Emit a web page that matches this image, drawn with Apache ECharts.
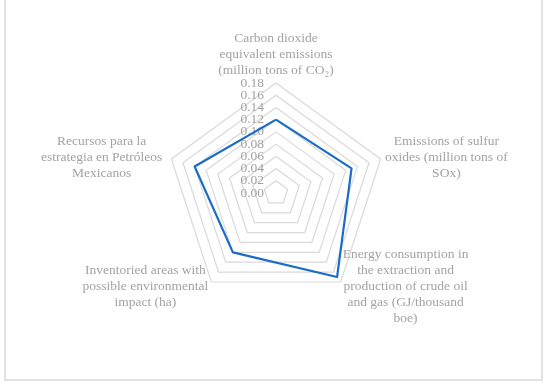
<!DOCTYPE html>
<html>
<head>
<meta charset="utf-8">
<script src="https://cdn.jsdelivr.net/npm/echarts@6/dist/echarts.min.js"></script>
<style>
  html, body { margin: 0; padding: 0; background: #fff; }
  #chart { width: 550px; height: 388px; }
</style>
</head>
<body>
<div id="chart"></div>
<script>
// Indicator names (each line of the wrapped label), clockwise from top
const indicatorNames = [
  ['Carbon dioxide', 'equivalent emissions', '(million tons of CO\u2082)'],
  ['Emissions of sulfur', 'oxides (million tons of', 'SOx)'],
  ['Energy consumption in', 'the extraction and', 'production of crude oil', 'and gas (GJ/thousand', 'boe)'],
  ['Inventoried areas with', 'possible environmental', 'impact (ha)'],
  ['Recursos para la', 'estrategia en Petróleos', 'Mexicanos']
];
// Series values (same order as indicatorNames)
const seriesValues = [0.12, 0.13, 0.17, 0.12, 0.14];
// Radial axis range / ticks
const axisMin = 0;
const axisMax = 0.18;
const axisStep = 0.02;

const textColor = '#a3a3a3';
const fontFamily = '"Liberation Serif", "DejaVu Serif", serif';
const boxWidths = [180, 122, 124, 126, 130];

// ECharts lays indicators counter-clockwise; the reference goes clockwise.
const order = [0, 4, 3, 2, 1];

const isEnd = v => Math.abs(v - axisMin) < 1e-9 || Math.abs(v - axisMax) < 1e-9;
const labelStyle = {
  color: textColor,
  fontFamily: fontFamily,
  fontSize: 13.5,
  margin: 12
};

// pass 0: inner tick labels; pass 1: min / max tick labels
function buildIndicators(pass) {
  return order.map((i, k) => {
    const ind = { name: indicatorNames[i].join('\n'), min: axisMin, max: axisMax, interval: axisStep };
    if (k === 0) {
      ind.axisLabel = Object.assign({}, labelStyle, {
        show: true,
        showMinLabel: pass === 1,
        showMaxLabel: pass === 1,
        formatter: v => (pass === 1) === isEnd(v) ? Number(v).toFixed(2) : ''
      });
    }
    return ind;
  });
}

const rich = {};
boxWidths.forEach((w, i) => {
  rich['n' + i] = {
    width: w, align: 'center', color: textColor,
    fontFamily: fontFamily, fontSize: 13.5, lineHeight: 16
  };
});

const radarBase = {
  center: [276, 193],
  radius: 110,
  startAngle: 90,
  shape: 'polygon',
  splitNumber: Math.round((axisMax - axisMin) / axisStep),
  nameGap: 5,
  axisLine: { show: false },
  axisTick: { show: false },
  axisLabel: { show: false },
  splitArea: { show: false }
};

const chart = echarts.init(document.getElementById('chart'), null, { renderer: 'canvas' });
chart.setOption({
  animation: false,
  backgroundColor: '#ffffff',
  graphic: [{
    type: 'rect',
    shape: { x: 5, y: -4, width: 537, height: 384 },
    style: { fill: 'none', stroke: '#d9d9d9', lineWidth: 1.5 },
    silent: true
  }],
  radar: [
    Object.assign({}, radarBase, {
      axisName: {
        color: textColor,
        fontFamily: fontFamily,
        fontSize: 13.5,
        lineHeight: 16,
        formatter: function (value) {
          const idx = indicatorNames.findIndex(l => l.join('\n') === value);
          return indicatorNames[idx].map(l => '{n' + idx + '|' + l + '}').join('\n');
        },
        rich: rich
      },
      splitLine: { lineStyle: { color: '#d9d9d9', width: 1.2 } },
      indicator: buildIndicators(0)
    }),
    Object.assign({}, radarBase, {
      axisName: { show: false },
      splitLine: { show: false },
      indicator: buildIndicators(1)
    })
  ],
  series: [{
    type: 'radar',
    radarIndex: 0,
    symbol: 'none',
    lineStyle: { color: '#1a6cc6', width: 2.2 },
    data: [{ value: order.map(i => seriesValues[i]), name: 'Series' }]
  }]
});
</script>
</body>
</html>
